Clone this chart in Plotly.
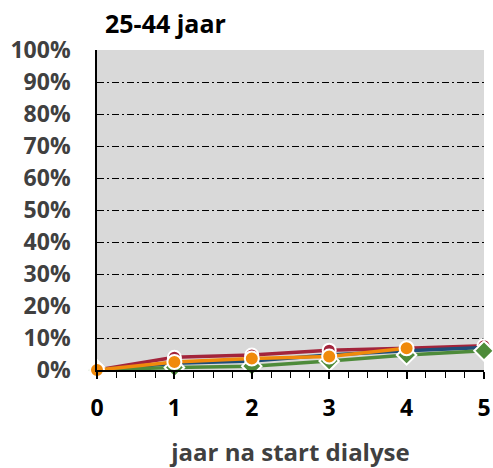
import plotly.graph_objects as go

years = [0, 1, 2, 3, 4, 5]
red = [0.000, 0.040, 0.047, 0.062, 0.068, 0.076]
blue = [0.000, 0.021, 0.028, 0.047, 0.060, 0.070]
green = [0.000, 0.008, 0.012, 0.028, 0.047, 0.060]
orange = [0.000, 0.025, 0.036, 0.042, 0.068, None]
y_ticks = [i / 10 for i in range(11)]
y_labels = [f"{i*10}%" for i in range(11)]

FONT = "Open Sans"

fig = go.Figure()
series = [
    ("red", red, "#A3243B", "circle", 13),
    ("blue", blue, "#1F4E79", "circle", 10),
    ("green", green, "#4E8B3A", "diamond", 15),
    ("orange", orange, "#F08A0B", "circle", 14),
]
for name, vals, col, sym, sz in series:
    fig.add_trace(go.Scatter(
        x=years, y=vals, mode="lines+markers", name=name,
        line=dict(color=col, width=3.5),
        marker=dict(symbol=sym, size=sz, color=col, line=dict(color="white", width=2)),
        cliponaxis=False, showlegend=False,
    ))

W, H = 493, 468
fig.update_layout(
    width=W, height=H,
    margin=dict(l=97, r=9, t=50, b=98, pad=0, autoexpand=False),
    paper_bgcolor="white", plot_bgcolor="#D9D9D9",
    font=dict(family=FONT, color="#404040", size=22),
    title=dict(text="<b>25-44 jaar</b>", x=105 / W, xanchor="left",
               y=1 - 24 / H, yanchor="middle",
               font=dict(size=25, color="black", family=FONT)),
)
fig.update_xaxes(
    range=[0, 5], tickvals=years, ticktext=[f"<b>{v}</b>" for v in years],
    automargin=False,
    showgrid=False, zeroline=False, showline=True, linecolor="black", linewidth=1.5,
    ticks="outside", ticklen=7, tickcolor="black", tickwidth=1.5,
    minor=dict(dtick=0.25, ticks="outside", ticklen=6, tickcolor="black", tickwidth=1),
    ticklabelstandoff=10,
    title=dict(text="<b>jaar na start dialyse</b>", standoff=22, font=dict(size=24, color="#404040", family=FONT)),
    tickfont=dict(size=23, color="black", family=FONT),
)
fig.update_yaxes(
    range=[0, 1], tickvals=y_ticks, automargin=False,
    ticktext=[f"<b>{t}</b>" for t in y_labels],
    showgrid=True, gridcolor="black", gridwidth=1, griddash="7px,3px,2px,3px",
    zeroline=False, showline=True, linecolor="black", linewidth=1.5,
    ticks="", ticklabelstandoff=20, tickfont=dict(size=23, color="#404040", family=FONT),
)
fig.write_html("out.html", config={"displayModeBar": False},
               post_script="document.body.style.margin='0';document.body.style.overflow='hidden';")
